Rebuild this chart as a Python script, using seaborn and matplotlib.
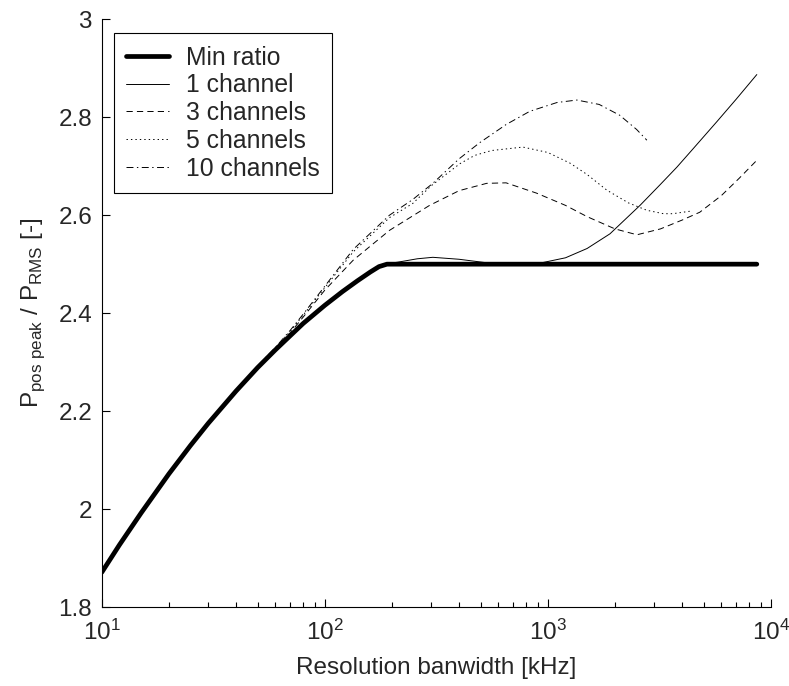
import numpy as np
import pandas as pd
import matplotlib
matplotlib.use("Agg")
import matplotlib.pyplot as plt
from matplotlib.ticker import FixedLocator, FuncFormatter
import seaborn as sns

# values (x in kHz, y is peak/RMS ratio)
min_x = [10, 12, 15, 20, 25, 30, 40, 50, 60, 70, 80, 100, 120, 140, 160, 175, 190, 8650]
min_y = [1.871, 1.927, 1.992, 2.072, 2.13, 2.175, 2.241, 2.289, 2.325, 2.354, 2.379, 2.416,
         2.444, 2.466, 2.484, 2.495, 2.5, 2.5]

ch1_x = [10, 12, 15, 20, 25, 30, 40, 50, 60, 70, 80, 100, 120, 140, 160, 175, 190,
         212, 260, 305, 400, 550, 700, 920, 1200, 1500, 1900, 2590, 3200, 3790, 4470, 5730, 7000, 8650]
ch1_y = [1.871, 1.927, 1.992, 2.072, 2.13, 2.175, 2.241, 2.289, 2.325, 2.354, 2.379, 2.416,
         2.444, 2.466, 2.485, 2.496, 2.501,
         2.504, 2.511, 2.514, 2.51, 2.502, 2.5, 2.502, 2.513, 2.532, 2.562, 2.62, 2.663, 2.698,
         2.735, 2.791, 2.837, 2.887]

ch3_x = [10, 12, 15, 20, 25, 30, 40, 50, 60, 70, 80, 100, 134, 195, 295, 400, 532, 650, 890,
         1200, 1500, 2000, 2510, 3200, 4000, 4800, 6000, 7200, 8650]
ch3_y = [1.871, 1.927, 1.992, 2.072, 2.13, 2.175, 2.241, 2.29, 2.327, 2.36, 2.392, 2.447,
         2.508, 2.569, 2.62, 2.65, 2.665, 2.666, 2.645, 2.62, 2.597, 2.572, 2.56, 2.572, 2.59,
         2.606, 2.64, 2.675, 2.712]

ch5_x = [10, 12, 15, 20, 25, 30, 40, 50, 60, 70, 80, 100, 134, 195, 248, 300, 403, 470, 560,
         773, 1000, 1260, 1500, 1840, 2300, 2780, 3300, 3630, 4330]
ch5_y = [1.871, 1.927, 1.992, 2.072, 2.13, 2.175, 2.241, 2.291, 2.329, 2.363, 2.396, 2.452,
         2.525, 2.595, 2.624, 2.66, 2.705, 2.722, 2.732, 2.739, 2.728, 2.706, 2.683, 2.651,
         2.625, 2.61, 2.603, 2.603, 2.608]

ch10_x = [10, 12, 15, 20, 25, 30, 40, 50, 60, 70, 80, 100, 134, 195, 248, 305, 400, 495, 650,
          830, 1100, 1350, 1700, 2100, 2500, 2780]
ch10_y = [1.871, 1.927, 1.992, 2.072, 2.13, 2.175, 2.241, 2.292, 2.33, 2.365, 2.398, 2.455,
          2.53, 2.6, 2.632, 2.665, 2.715, 2.748, 2.785, 2.812, 2.83, 2.835, 2.826, 2.804,
          2.775, 2.753]

series = [
    ("Min ratio", min_x, min_y, 3.4, "-"),
    ("1 channel", ch1_x, ch1_y, 0.7, "-"),
    ("3 channels", ch3_x, ch3_y, 0.7, (0, (4.5, 3))),
    ("5 channels", ch5_x, ch5_y, 0.7, (0, (1, 2.2))),
    ("10 channels", ch10_x, ch10_y, 0.7, (0, (5, 2.5, 1, 2.5))),
]

sns.set_style("ticks")
plt.rcParams["font.family"] = ["Liberation Sans", "DejaVu Sans"]
plt.rcParams["mathtext.fontset"] = "custom"
plt.rcParams["mathtext.rm"] = "Liberation Sans"
plt.rcParams["lines.scale_dashes"] = False

fig = plt.figure(figsize=(7.89, 6.86), dpi=100)
ax = fig.add_axes([0.129, 0.115, 0.848, 0.857])

for name, xs, ys, lw, ls in series:
    sns.lineplot(x=xs, y=ys, ax=ax, color="black", linewidth=lw,
                 linestyle=ls, label=name, sort=False)

ax.set_xscale("log")
ax.set_xlim(10, 10000)
ax.set_ylim(1.8, 3.0)
ax.xaxis.set_major_locator(FixedLocator([10, 100, 1000, 10000]))
ax.yaxis.set_major_locator(FixedLocator([1.8, 2.0, 2.2, 2.4, 2.6, 2.8, 3.0]))
ax.yaxis.set_major_formatter(FuncFormatter(lambda v, p: "%g" % round(v, 2)))

ax.tick_params(which="both", direction="in", labelsize=17.5, color="black", width=0.8)
ax.tick_params(which="major", length=6)
ax.tick_params(axis="y", pad=7)
ax.tick_params(axis="x", pad=9)
ax.tick_params(which="minor", length=3.5)
for s in ["top", "right"]:
    ax.spines[s].set_visible(False)
for s in ["left", "bottom"]:
    ax.spines[s].set_color("black")
    ax.spines[s].set_linewidth(0.8)

ax.set_xlabel("Resolution banwidth [kHz]", fontsize=17.5, labelpad=9)
ax.set_ylabel(r"P$_{\mathregular{pos\ peak}}$ / P$_{\mathregular{RMS}}$ [-]", fontsize=17.5, labelpad=8)

leg = ax.legend(loc="upper left", bbox_to_anchor=(0.018, 0.976), borderaxespad=0,
                fontsize=17.8, frameon=True, fancybox=False, framealpha=1,
                edgecolor="black", handlelength=1.75, labelspacing=0.15,
                handletextpad=0.65, borderpad=0.5)
leg.get_frame().set_linewidth(0.8)

fig.savefig("out.png", dpi=100)
